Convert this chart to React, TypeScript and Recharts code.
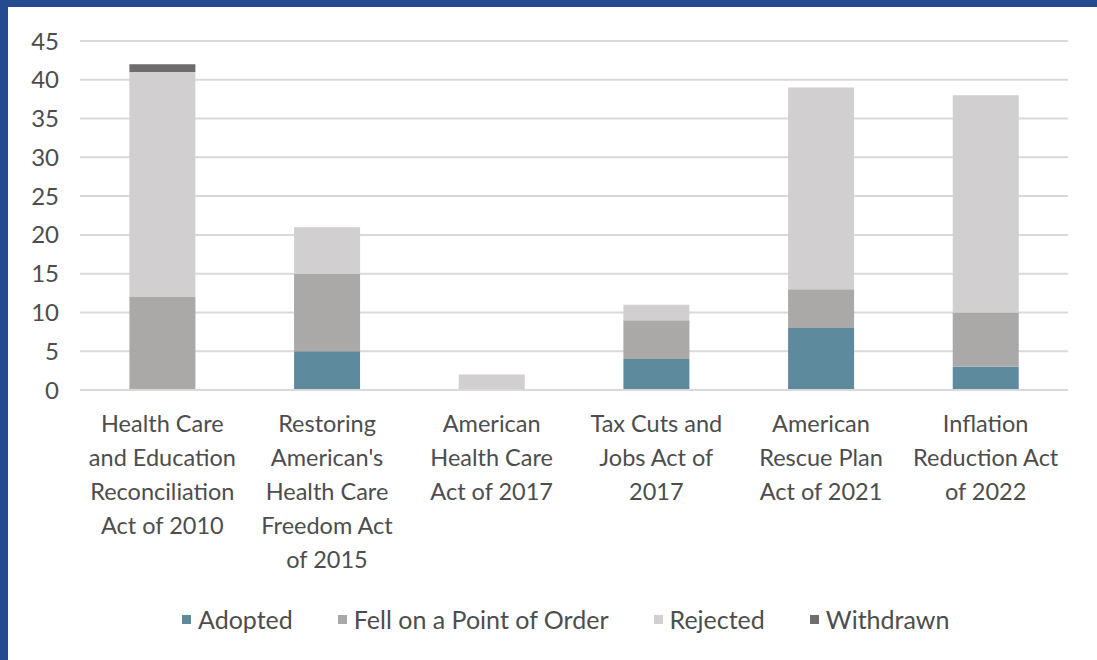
import React from "react";
import { BarChart, Bar, XAxis, YAxis, CartesianGrid, Legend } from "recharts";

const categories = [
  "Health Care|and Education|Reconciliation|Act of 2010",
  "Restoring|American's|Health Care|Freedom Act|of 2015",
  "American|Health Care|Act of 2017",
  "Tax Cuts and|Jobs Act of|2017",
  "American|Rescue Plan|Act of 2021",
  "Inflation|Reduction Act|of 2022",
];
const adopted = [0, 5, 0, 4, 8, 3];
const fellOnPoint = [12, 10, 0, 5, 5, 7];
const rejected = [29, 6, 2, 2, 26, 28];
const withdrawn = [1, 0, 0, 0, 0, 0];
const yTicks = [0, 5, 10, 15, 20, 25, 30, 35, 40, 45];

const series = [
  { key: "adopted", name: "Adopted", color: "#5e8a9d" },
  { key: "fell", name: "Fell on a Point of Order", color: "#aba8a8" },
  { key: "rejected", name: "Rejected", color: "#d1cfcf" },
  { key: "withdrawn", name: "Withdrawn", color: "#6e6d6d" },
];

const data = categories.map((name, i) => ({
  name,
  adopted: adopted[i],
  fell: fellOnPoint[i],
  rejected: rejected[i],
  withdrawn: withdrawn[i],
}));

const FONT = "Lato, 'Open Sans', sans-serif";

const CategoryTick = (props: any) => {
  const { x, y, payload } = props;
  const lines = String(payload.value).split("|");
  return (
    <g transform={`translate(${x},${y})`}>
      {lines.map((line, i) => (
        <text
          key={i}
          x={0}
          y={25 + i * 34}
          textAnchor="middle"
          dominantBaseline="central"
          fill="#4d4d4d"
          fontSize={23.5}
          fontFamily={FONT}
        >
          {line}
        </text>
      ))}
    </g>
  );
};

const LegendContent = () => (
  <div
    style={{
      display: "flex",
      alignItems: "center",
      paddingLeft: 174,
      paddingTop: 14,
      fontFamily: FONT,
      fontSize: 25,
      color: "#4d4d4d",
    }}
  >
    {series.map((s) => (
      <div key={s.key} style={{ display: "flex", alignItems: "center", marginRight: 45 }}>
        <span style={{ width: 9, height: 9, background: s.color, marginRight: 7, display: "inline-block" }} />
        <span>{s.name}</span>
      </div>
    ))}
  </div>
);

export default function App() {
  return (
    <div
      style={{
        position: "fixed",
        left: 0,
        top: 0,
        width: 1097,
        height: 660,
        background: "#264a90",
      }}
    >
      <div
        style={{
          position: "absolute",
          left: 8,
          top: 7,
          width: 1089,
          height: 653,
          background: "#ffffff",
        }}
      >
        <BarChart
          width={1089}
          height={653}
          data={data}
          margin={{ top: 34, right: 29, left: 0, bottom: 30 }}
          barCategoryGap="30%"
        >
          <CartesianGrid vertical={false} stroke="#d9d9d9" strokeWidth={2} />
          <XAxis
            dataKey="name"
            tick={<CategoryTick />}
            tickLine={false}
            axisLine={{ stroke: "#d9d9d9", strokeWidth: 2 }}
            interval={0}
            height={200}
          />
          <YAxis
            domain={[0, 45]}
            ticks={yTicks}
            width={72}
            tickLine={false}
            axisLine={false}
            tick={{ fill: "#4d4d4d", fontSize: 24, fontFamily: FONT, dx: -13 }}
          />
          <Legend verticalAlign="bottom" height={40} content={<LegendContent />} />
          {series.map((s) => (
            <Bar key={s.key} dataKey={s.key} name={s.name} stackId="a" fill={s.color} isAnimationActive={false} />
          ))}
        </BarChart>
      </div>
    </div>
  );
}
